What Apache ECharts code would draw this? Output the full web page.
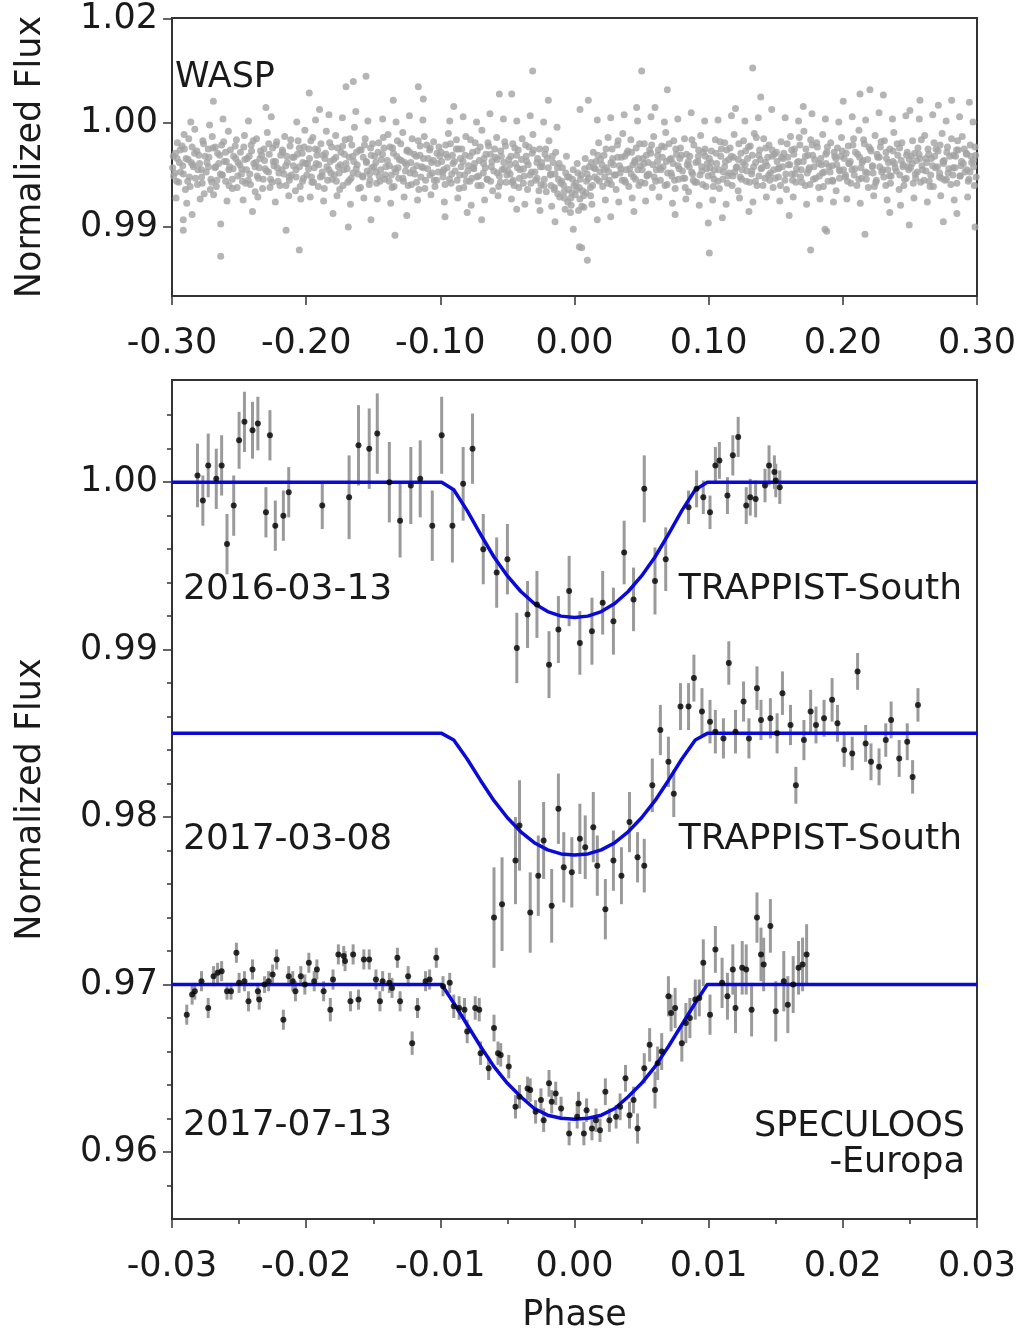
<!DOCTYPE html>
<html>
<head>
<meta charset="utf-8">
<script src="https://cdn.jsdelivr.net/npm/echarts@6/dist/echarts.min.js"></script>
<style>
html, body { margin: 0; padding: 0; background: #fff; }
#main { width: 1019px; height: 1329px; }
</style>
</head>
<body>
<div id="main"></div>
<script>
// WASP phase-folded photometry (phase, normalized flux)
var waspBand = [
[-.299,.9968],[-.298,.9952],[-.296,.9981],[-.295,.9943],[-.294,.9974],[-.292,.9959],[-.291,.9989],[-.290,.9936],[-.288,.9965],[-.287,.9948],[-.285,.9977],[-.284,.9958],[-.283,.9994],[-.281,.9941],[-.280,.9969],[-.278,.9955],[-.277,.9983],[-.276,.9932],[-.274,.9962],[-.273,.9975],[-.271,.9946],[-.270,.9987],[-.268,.9957],[-.267,.9939],[-.266,.9971],[-.264,.9951],[-.263,.9979],[-.261,.9963],[-.260,.9944],[-.258,.9992],[-.257,.9958],[-.255,.9937],[-.254,.9968],[-.252,.9984],[-.251,.9949],
[-.297,.9928],[-.289,.9923],[-.279,.9927],[-.269,.9931],[-.259,.9925],[-.286,1.0001],[-.272,.9998],[-.262,1.0004],
[-.249,.9972],[-.248,.9956],[-.246,.9988],[-.245,.9942],[-.244,.9966],[-.242,.9951],[-.241,.9979],[-.239,.9961],[-.238,.9934],[-.237,.9985],[-.235,.9957],[-.234,.9973],[-.232,.9946],[-.231,.9964],[-.229,.9991],[-.228,.9953],[-.227,.9938],[-.225,.9976],[-.224,.9959],[-.222,.9982],[-.221,.9944],[-.219,.9969],[-.218,.9955],[-.216,.9987],[-.215,.9940],[-.214,.9962],[-.212,.9978],[-.211,.9950],[-.209,.9967],[-.208,.9935],[-.206,.9983],[-.205,.9958],[-.203,.9971],[-.202,.9947],[-.201,.9993],
[-.247,.9926],[-.236,.9929],[-.223,.9924],[-.213,.9930],[-.204,.9927],[-.243,1.0002],[-.226,1.0006],[-.207,1.0001],
[-.199,.9961],[-.198,.9975],[-.196,.9948],[-.195,.9986],[-.194,.9957],[-.192,.9969],[-.191,.9939],[-.189,.9980],[-.188,.9953],[-.186,.9966],[-.185,.9992],[-.184,.9945],[-.182,.9963],[-.181,.9977],[-.179,.9950],[-.178,.9988],[-.176,.9958],[-.175,.9936],[-.174,.9972],[-.172,.9955],[-.171,.9984],[-.169,.9943],[-.168,.9967],[-.166,.9979],[-.165,.9952],[-.164,.9996],[-.162,.9960],[-.161,.9937],[-.159,.9974],[-.158,.9949],[-.156,.9985],[-.155,.9962],[-.153,.9941],[-.152,.9976],[-.151,.9957],
[-.197,.9929],[-.187,.9925],[-.177,.9930],[-.167,.9922],[-.157,.9928],[-.193,1.0003],[-.183,1.0008],[-.173,1.0005],[-.163,1.0011],[-.154,1.0002],
[-.149,.9968],[-.148,.9953],[-.146,.9981],[-.145,.9944],[-.144,.9965],[-.142,.9976],[-.141,.9950],[-.139,.9989],[-.138,.9959],[-.136,.9938],[-.135,.9971],[-.134,.9956],[-.132,.9983],[-.131,.9947],[-.129,.9964],[-.128,.9991],[-.126,.9954],[-.125,.9973],[-.124,.9940],[-.122,.9962],[-.121,.9985],[-.119,.9951],[-.118,.9968],[-.116,.9936],[-.115,.9978],[-.114,.9958],[-.112,.9987],[-.111,.9945],[-.109,.9966],[-.108,.9974],[-.106,.9952],[-.105,.9982],[-.104,.9939],[-.102,.9961],[-.101,.9977],
[-.147,.9927],[-.137,.9923],[-.127,.9929],[-.117,.9926],[-.107,.9931],[-.143,1.0004],[-.133,1.0001],[-.123,1.0007],[-.113,1.0003],
[-.099,.9963],[-.098,.9948],[-.096,.9979],[-.095,.9957],[-.094,.9990],[-.092,.9942],[-.091,.9969],[-.089,.9954],[-.088,.9984],[-.086,.9937],[-.085,.9966],[-.084,.9975],[-.082,.9950],[-.081,.9987],[-.079,.9959],[-.078,.9944],[-.076,.9972],[-.075,.9956],[-.074,.9981],[-.072,.9940],[-.071,.9964],[-.069,.9993],[-.068,.9952],[-.066,.9970],[-.065,.9946],[-.064,.9978],[-.062,.9958],[-.061,.9935],[-.059,.9967],[-.058,.9986],[-.056,.9949],[-.055,.9973],[-.054,.9955],[-.052,.9982],[-.051,.9943],
[-.097,.9924],[-.087,.9928],[-.077,.9921],[-.067,.9926],[-.057,.9930],[-.093,1.0002],[-.083,1.0006],[-.073,1.0001],[-.063,1.0009],[-.053,1.0004],
[-.049,.9965],[-.048,.9951],[-.046,.9980],[-.045,.9940],[-.044,.9961],[-.042,.9974],[-.041,.9947],[-.039,.9985],[-.038,.9956],[-.036,.9968],[-.035,.9936],[-.034,.9977],[-.032,.9953],[-.031,.9989],[-.029,.9945],[-.028,.9962],[-.026,.9975],[-.025,.9941],[-.024,.9958],[-.022,.9970],[-.021,.9934],[-.019,.9983],[-.018,.9950],[-.016,.9962],[-.015,.9938],[-.014,.9972],[-.012,.9946],[-.011,.9929],[-.009,.9957],[-.008,.9940],[-.006,.9968],[-.005,.9924],[-.004,.9948],[-.002,.9933],[-.001,.9955],
[-.047,.9927],[-.037,.9922],[-.027,.9925],[-.017,.9920],[-.007,.9917],[-.003,.9914],[-.043,1.0002],[-.033,1.0007],[-.023,1.0001],[-.013,.9996],
[.001,.9942],[.002,.9961],[.004,.9927],[.005,.9950],[.006,.9935],[.008,.9966],[.009,.9944],[.011,.9958],[.012,.9930],[.014,.9972],[.015,.9948],[.016,.9963],[.018,.9981],[.019,.9953],[.021,.9939],[.022,.9969],[.024,.9957],[.025,.9986],[.026,.9945],[.028,.9975],[.029,.9960],[.031,.9936],[.032,.9979],[.034,.9952],[.035,.9967],[.036,.9990],[.038,.9943],[.039,.9971],[.041,.9956],[.042,.9984],[.044,.9948],[.045,.9964],[.046,.9976],[.048,.9940],[.049,.9959],
[.003,.9916],[.007,.9919],[.013,.9922],[.023,.9926],[.033,.9924],[.043,.9928],[.017,1.0003],[.027,1.0005],[.037,1.0008],[.047,1.0002],
[.051,.9966],[.052,.9980],[.054,.9949],[.055,.9962],[.056,.9974],[.058,.9938],[.059,.9987],[.061,.9955],[.062,.9969],[.064,.9945],[.065,.9978],[.066,.9958],[.068,.9991],[.069,.9941],[.071,.9965],[.072,.9952],[.074,.9983],[.075,.9937],[.076,.9970],[.078,.9956],[.079,.9976],[.081,.9947],[.082,.9985],[.084,.9960],[.085,.9934],[.086,.9968],[.088,.9951],[.089,.9979],[.091,.9943],[.092,.9963],[.094,.9988],[.095,.9954],[.096,.9972],[.098,.9939],[.099,.9961],
[.053,.9925],[.063,.9929],[.073,.9923],[.083,.9927],[.093,.9921],[.057,1.0006],[.067,1.0001],[.077,1.0004],[.087,1.0010],[.097,1.0002],
[.101,.9957],[.102,.9973],[.104,.9946],[.105,.9984],[.106,.9961],[.108,.9937],[.109,.9968],[.111,.9953],[.112,.9981],[.114,.9942],[.115,.9965],[.116,.9976],[.118,.9949],[.119,.9989],[.121,.9958],[.122,.9935],[.124,.9971],[.125,.9955],[.126,.9983],[.128,.9944],[.129,.9966],[.131,.9978],[.132,.9951],[.134,.9990],[.135,.9962],[.136,.9940],[.138,.9974],[.139,.9956],[.141,.9985],[.142,.9947],[.144,.9967],[.145,.9979],[.146,.9952],[.148,.9938],[.149,.9970],
[.103,.9926],[.113,.9922],[.123,.9928],[.133,.9924],[.143,.9929],[.107,1.0003],[.117,1.0007],[.127,1.0002],[.137,1.0005],
[.151,.9963],[.152,.9948],[.154,.9982],[.155,.9958],[.156,.9971],[.158,.9936],[.159,.9967],[.161,.9987],[.162,.9951],[.164,.9975],[.165,.9943],[.166,.9962],[.168,.9979],[.169,.9955],[.171,.9992],[.172,.9940],[.174,.9969],[.175,.9957],[.176,.9984],[.178,.9946],[.179,.9965],[.181,.9977],[.182,.9938],[.184,.9960],[.185,.9989],[.186,.9953],[.188,.9972],[.189,.9944],[.191,.9981],[.192,.9959],[.194,.9968],[.195,.9935],[.196,.9976],[.198,.9954],[.199,.9986],
[.153,.9925],[.163,.9929],[.173,.9922],[.183,.9927],[.193,.9924],[.157,1.0005],[.167,1.0002],[.177,1.0009],[.187,1.0004],[.197,1.0001],
[.201,.9966],[.202,.9950],[.204,.9978],[.205,.9961],[.206,.9942],[.208,.9985],[.209,.9956],[.211,.9970],[.212,.9993],[.214,.9947],[.215,.9964],[.216,.9980],[.218,.9952],[.219,.9938],[.221,.9973],[.222,.9958],[.224,.9988],[.225,.9945],[.226,.9967],[.228,.9977],[.229,.9953],[.231,.9983],[.232,.9940],[.234,.9962],[.235,.9975],[.236,.9949],[.238,.9991],[.239,.9957],[.241,.9969],[.242,.9936],[.244,.9981],[.245,.9960],[.246,.9946],[.248,.9972],[.249,.9955],
[.203,.9927],[.213,.9923],[.223,.9930],[.233,.9926],[.243,.9921],[.207,1.0006],[.217,1.0003],[.227,1.0010],[.237,1.0004],[.247,1.0007],
[.251,.9968],[.252,.9983],[.254,.9951],[.255,.9964],[.256,.9976],[.258,.9943],[.259,.9959],[.261,.9988],[.262,.9954],[.264,.9970],[.265,.9939],[.266,.9966],[.268,.9981],[.269,.9957],[.271,.9973],[.272,.9948],[.274,.9990],[.275,.9961],[.276,.9945],[.278,.9977],[.279,.9956],[.281,.9985],[.282,.9950],[.284,.9968],[.285,.9942],[.286,.9974],[.288,.9959],[.289,.9987],[.291,.9953],[.292,.9971],[.294,.9946],[.295,.9979],[.296,.9962],[.298,.9940],[.299,.9969],
[.253,.9928],[.263,.9924],[.273,.9930],[.283,.9926],[.293,.9929],[.257,1.0004],[.267,1.0008],[.277,1.0002],[.287,1.0006],[.297,1.0001]
];
var waspCore = [
[-.2995,.9957],[-.2975,.9971],[-.2965,.9944],[-.2945,.9962],[-.2925,.9978],[-.2915,.9951],[-.2895,.9966],[-.2875,.9985],[-.2865,.9939],[-.2845,.9960],[-.2825,.9947],[-.2815,.9973],[-.2795,.9961],[-.2775,.9942],[-.2765,.9980],[-.2745,.9953],[-.2725,.9967],[-.2715,.9936],[-.2695,.9976],[-.2675,.9958],[-.2665,.9945],[-.2645,.9969],[-.2625,.9950],[-.2615,.9982],[-.2595,.9963],[-.2575,.9940],[-.2565,.9974],[-.2545,.9956],[-.2525,.9966],[-.2515,.9938],
[-.2495,.9960],[-.2475,.9944],[-.2465,.9977],[-.2445,.9955],[-.2425,.9968],[-.2415,.9941],[-.2395,.9983],[-.2375,.9962],[-.2365,.9949],[-.2345,.9966],[-.2325,.9937],[-.2315,.9975],[-.2295,.9954],[-.2275,.9970],[-.2265,.9946],[-.2245,.9963],[-.2225,.9979],[-.2215,.9957],[-.2195,.9940],[-.2175,.9972],[-.2165,.9951],[-.2145,.9968],[-.2125,.9945],[-.2115,.9984],[-.2095,.9959],[-.2075,.9948],[-.2065,.9970],[-.2045,.9939],[-.2025,.9962],[-.2015,.9977],
[-.1995,.9950],[-.1975,.9966],[-.1965,.9983],[-.1945,.9943],[-.1925,.9961],[-.1915,.9974],[-.1895,.9948],[-.1875,.9969],[-.1865,.9937],[-.1845,.9958],[-.1825,.9981],[-.1815,.9952],[-.1795,.9965],[-.1775,.9944],[-.1765,.9976],[-.1745,.9960],[-.1725,.9940],[-.1715,.9970],[-.1695,.9956],[-.1675,.9985],[-.1665,.9947],[-.1645,.9963],[-.1625,.9972],[-.1615,.9951],[-.1595,.9938],[-.1575,.9967],[-.1565,.9979],[-.1545,.9954],[-.1525,.9945],[-.1515,.9969],
[-.1495,.9958],[-.1475,.9942],[-.1465,.9972],[-.1445,.9955],[-.1425,.9986],[-.1415,.9946],[-.1395,.9964],[-.1375,.9977],[-.1365,.9950],[-.1345,.9939],[-.1325,.9968],[-.1315,.9957],[-.1295,.9980],[-.1275,.9944],[-.1265,.9962],[-.1245,.9974],[-.1225,.9952],[-.1215,.9941],[-.1195,.9970],[-.1175,.9959],[-.1165,.9983],[-.1145,.9948],[-.1125,.9966],[-.1115,.9937],[-.1095,.9956],[-.1075,.9976],[-.1065,.9962],[-.1045,.9945],[-.1025,.9971],[-.1015,.9953],
[-.0995,.9972],[-.0975,.9955],[-.0965,.9941],[-.0945,.9967],[-.0925,.9980],[-.0915,.9951],[-.0895,.9963],[-.0875,.9945],[-.0865,.9975],[-.0845,.9958],[-.0825,.9938],[-.0815,.9969],[-.0795,.9954],[-.0775,.9984],[-.0765,.9947],[-.0745,.9961],[-.0725,.9973],[-.0715,.9949],[-.0695,.9940],[-.0675,.9966],[-.0665,.9957],[-.0645,.9981],[-.0625,.9944],[-.0615,.9963],[-.0595,.9975],[-.0575,.9952],[-.0565,.9939],[-.0545,.9968],[-.0525,.9956],[-.0515,.9978],
[-.0495,.9954],[-.0475,.9968],[-.0465,.9943],[-.0445,.9976],[-.0425,.9957],[-.0415,.9938],[-.0395,.9965],[-.0375,.9949],[-.0365,.9979],[-.0345,.9960],[-.0325,.9942],[-.0315,.9971],[-.0295,.9953],[-.0275,.9966],[-.0265,.9935],[-.0245,.9962],[-.0225,.9946],[-.0215,.9975],[-.0195,.9957],[-.0175,.9940],[-.0165,.9968],[-.0145,.9951],[-.0125,.9932],[-.0115,.9961],[-.0095,.9944],[-.0075,.9928],[-.0065,.9952],[-.0045,.9936],[-.0025,.9921],[-.0015,.9946],
[.0005,.9931],[.0025,.9952],[.0035,.9938],[.0055,.9920],[.0075,.9956],[.0085,.9933],[.0105,.9947],[.0125,.9962],[.0135,.9940],[.0155,.9956],[.0175,.9969],[.0185,.9944],[.0205,.9960],[.0225,.9948],[.0235,.9975],[.0255,.9953],[.0275,.9941],[.0285,.9966],[.0305,.9950],[.0325,.9983],[.0335,.9959],[.0355,.9945],[.0375,.9968],[.0385,.9955],[.0405,.9939],[.0425,.9972],[.0435,.9960],[.0455,.9946],[.0475,.9966],[.0485,.9980],
[.0505,.9955],[.0525,.9942],[.0535,.9969],[.0555,.9951],[.0575,.9979],[.0585,.9960],[.0605,.9944],[.0625,.9974],[.0635,.9957],[.0655,.9967],[.0675,.9940],[.0685,.9963],[.0705,.9980],[.0725,.9949],[.0735,.9961],[.0755,.9975],[.0775,.9946],[.0785,.9966],[.0805,.9954],[.0825,.9938],[.0835,.9970],[.0855,.9958],[.0875,.9984],[.0885,.9945],[.0905,.9962],[.0925,.9974],[.0935,.9950],[.0955,.9941],[.0975,.9968],[.0985,.9956],
[.1005,.9966],[.1025,.9950],[.1035,.9939],[.1055,.9971],[.1075,.9955],[.1085,.9982],[.1105,.9946],[.1125,.9963],[.1135,.9974],[.1155,.9952],[.1175,.9940],[.1185,.9967],[.1205,.9957],[.1225,.9980],[.1235,.9948],[.1255,.9962],[.1275,.9973],[.1285,.9954],[.1305,.9943],[.1325,.9969],[.1335,.9958],[.1355,.9986],[.1375,.9949],[.1385,.9965],[.1405,.9940],[.1425,.9976],[.1435,.9959],[.1455,.9945],[.1475,.9968],[.1485,.9955],
[.1505,.9972],[.1525,.9957],[.1535,.9940],[.1555,.9966],[.1575,.9951],[.1585,.9980],[.1605,.9960],[.1625,.9945],[.1635,.9970],[.1655,.9956],[.1675,.9986],[.1685,.9948],[.1705,.9963],[.1725,.9975],[.1735,.9952],[.1755,.9941],[.1775,.9969],[.1785,.9958],[.1805,.9981],[.1825,.9949],[.1835,.9966],[.1855,.9939],[.1875,.9961],[.1885,.9977],[.1905,.9953],[.1925,.9944],[.1935,.9972],[.1955,.9960],[.1975,.9947],[.1985,.9968],
[.2005,.9955],[.2025,.9971],[.2035,.9944],[.2055,.9963],[.2075,.9979],[.2085,.9950],[.2105,.9940],[.2125,.9967],[.2135,.9957],[.2155,.9984],[.2175,.9946],[.2185,.9965],[.2205,.9975],[.2225,.9952],[.2235,.9939],[.2255,.9970],[.2275,.9958],[.2285,.9982],[.2305,.9948],[.2325,.9966],[.2335,.9955],[.2355,.9942],[.2375,.9973],[.2385,.9961],[.2405,.9980],[.2425,.9950],[.2435,.9964],[.2455,.9940],[.2475,.9969],[.2485,.9958],
[.2505,.9957],[.2525,.9942],[.2535,.9971],[.2555,.9953],[.2575,.9966],[.2585,.9984],[.2605,.9945],[.2625,.9962],[.2635,.9975],[.2655,.9950],[.2675,.9939],[.2685,.9968],[.2705,.9958],[.2725,.9979],[.2735,.9947],[.2755,.9964],[.2775,.9972],[.2785,.9952],[.2805,.9941],[.2825,.9969],[.2835,.9957],[.2855,.9983],[.2875,.9949],[.2885,.9963],[.2905,.9975],[.2925,.9955],[.2935,.9944],[.2955,.9968],[.2975,.9958],[.2985,.9977]
];
var waspInner = [
[-.2988,.9949],[-.2962,.9966],[-.2937,.9953],[-.2908,.9975],[-.2883,.9944],[-.2857,.9962],[-.2832,.9971],[-.2806,.9955],[-.2779,.9948],[-.2753,.9968],[-.2728,.9958],[-.2703,.9943],[-.2677,.9977],[-.2652,.9961],[-.2627,.9950],[-.2601,.9972],[-.2576,.9955],[-.2551,.9946],[-.2529,.9978],[-.2508,.9962],
[-.2483,.9951],[-.2457,.9965],[-.2432,.9945],[-.2407,.9973],[-.2381,.9958],[-.2356,.9947],[-.2331,.9969],[-.2306,.9956],[-.2279,.9980],[-.2254,.9943],[-.2228,.9963],[-.2203,.9952],[-.2178,.9974],[-.2152,.9959],[-.2127,.9948],[-.2101,.9967],[-.2076,.9955],[-.2051,.9976],[-.2027,.9944],[-.2006,.9961],
[-.1982,.9956],[-.1957,.9943],[-.1932,.9975],[-.1906,.9960],[-.1881,.9949],[-.1856,.9971],[-.1831,.9955],[-.1806,.9946],[-.1779,.9967],[-.1754,.9952],[-.1728,.9978],[-.1703,.9961],[-.1678,.9945],[-.1652,.9968],[-.1627,.9956],[-.1602,.9974],[-.1577,.9948],[-.1552,.9963],[-.1527,.9951],[-.1505,.9980],
[-.1481,.9962],[-.1456,.9949],[-.1431,.9970],[-.1406,.9958],[-.1381,.9944],[-.1356,.9976],[-.1331,.9953],[-.1306,.9965],[-.1279,.9947],[-.1254,.9960],[-.1228,.9972],[-.1203,.9955],[-.1178,.9943],[-.1152,.9969],[-.1127,.9957],[-.1102,.9979],[-.1077,.9950],[-.1052,.9964],[-.1027,.9945],[-.1004,.9968],
[-.0982,.9953],[-.0957,.9970],[-.0932,.9946],[-.0906,.9961],[-.0881,.9975],[-.0856,.9950],[-.0831,.9963],[-.0806,.9944],[-.0779,.9968],[-.0754,.9957],[-.0728,.9948],[-.0703,.9977],[-.0678,.9961],[-.0652,.9946],[-.0627,.9970],[-.0602,.9954],[-.0577,.9965],[-.0552,.9943],[-.0527,.9962],[-.0504,.9950],
[-.0482,.9960],[-.0457,.9945],[-.0432,.9969],[-.0406,.9955],[-.0381,.9942],[-.0356,.9963],[-.0331,.9950],[-.0306,.9974],[-.0279,.9947],[-.0254,.9958],[-.0228,.9940],[-.0203,.9966],[-.0178,.9951],[-.0152,.9936],[-.0127,.9957],[-.0102,.9942],[-.0077,.9934],[-.0052,.9948],[-.0027,.9928],[-.0004,.9940],
[.0018,.9936],[.0043,.9946],[.0068,.9930],[.0094,.9951],[.0119,.9938],[.0144,.9957],[.0169,.9946],[.0194,.9965],[.0221,.9955],[.0246,.9942],[.0272,.9962],[.0297,.9950],[.0322,.9967],[.0348,.9956],[.0373,.9945],[.0398,.9973],[.0423,.9951],[.0448,.9962],[.0473,.9955],[.0496,.9943],
[.0518,.9961],[.0543,.9950],[.0568,.9971],[.0594,.9948],[.0619,.9963],[.0644,.9955],[.0669,.9977],[.0694,.9952],[.0721,.9966],[.0746,.9945],[.0772,.9959],[.0797,.9969],[.0822,.9947],[.0848,.9963],[.0873,.9953],[.0898,.9943],[.0923,.9968],[.0948,.9958],[.0973,.9975],[.0996,.9949],
[.1018,.9962],[.1043,.9955],[.1068,.9944],[.1094,.9975],[.1119,.9958],[.1144,.9949],[.1169,.9968],[.1194,.9953],[.1221,.9965],[.1246,.9946],[.1272,.9960],[.1297,.9977],[.1322,.9954],[.1348,.9944],[.1373,.9969],[.1398,.9957],[.1423,.9962],[.1448,.9950],[.1473,.9974],[.1496,.9947],
[.1518,.9956],[.1543,.9967],[.1568,.9945],[.1594,.9960],[.1619,.9974],[.1644,.9951],[.1669,.9963],[.1694,.9943],[.1721,.9968],[.1746,.9955],[.1772,.9979],[.1797,.9947],[.1822,.9961],[.1848,.9952],[.1873,.9970],[.1898,.9958],[.1923,.9945],[.1948,.9966],[.1973,.9955],[.1996,.9973],
[.2018,.9948],[.2043,.9961],[.2068,.9955],[.2094,.9972],[.2119,.9946],[.2144,.9962],[.2169,.9953],[.2194,.9977],[.2221,.9959],[.2246,.9943],[.2272,.9967],[.2297,.9955],[.2322,.9972],[.2348,.9949],[.2373,.9963],[.2398,.9954],[.2423,.9976],[.2448,.9958],[.2473,.9947],[.2496,.9965],
[.2518,.9961],[.2543,.9947],[.2568,.9970],[.2594,.9955],[.2619,.9966],[.2644,.9944],[.2669,.9959],[.2694,.9975],[.2721,.9952],[.2746,.9963],[.2772,.9946],[.2797,.9968],[.2822,.9957],[.2848,.9974],[.2873,.9949],[.2898,.9961],[.2923,.9970],[.2948,.9953],[.2973,.9964],[.2994,.9948]
];
var waspOutliers = [
[-.2692,1.0021],[-.2637,.9872],[-.2916,.9897],[-.2916,.9907],[-.2637,.9903],[-.2051,.9878],[-.215,.9897],[-.1977,1.0029],[-.1703,1.0035],[-.1649,1.0040],
[-.1554,1.0045],[-.1686,.9900],[-.1351,1.0022],[-.1164,1.0035],[-.1127,1.0023],[-.1338,.9892],[-.1517,.9907],[-.0312,1.0050],[-.056,1.0028],[-.0468,1.0028],
[-.0195,1.0022],[-.0145,.9905],[-.0009,.9898],[.0036,.9881],[-.0692,.9907],[-.0431,.9917],[-.0965,.9910],[-.0257,.9916],[.0501,1.0050],[.1328,1.0053],
[.0692,1.0032],[.1388,1.0025],[.0054,.9880],[.0096,.9868],[.1005,.9875],[.176,.9878],[.017,.9907],[.027,.9910],[.0443,.9915],[.0997,.9904],
[.1102,.9909],[.188,.9896],[.2165,.9893],[.2495,.9902],[.2749,.9905],[.2985,.9900],[.2202,1.0032],[.2302,1.0027],[.2575,1.0022],[.2811,1.0022],
[.2943,1.0020],[.2712,1.0017],[.2128,1.0028],[.2003,1.0021],[.0463,1.0015],[.06,1.0015],[.1705,1.0016],[.0041,1.0013],[.0103,1.0022],[.1867,.9898],
[.147,1.0013],[-.285,.9912],[-.24,.9915],[-.18,.9913],[-.125,.9911],[-.08,.9914],[.075,.9912],[.13,.9915],[.16,.9911],[.235,.9914],
[.285,.9913],[-.23,1.0015],[-.19,1.0013],[-.09,1.0016],[.12,1.0014],[.25,1.0012]
];

// ground-based light curves: [phase, flux, error]
var trapMar16 = [
[-0.0281,1.0004,0.0019],[-0.0277,0.9989,0.0015],[-0.0273,1.0010,0.0019],[-0.0267,1.0002,0.0018],[-0.0263,1.0010,0.0018],
[-0.0259,0.9963,0.0018],[-0.0254,0.9986,0.0018],[-0.0250,1.0025,0.0017],[-0.0246,1.0036,0.0018],[-0.0240,1.0031,0.0017],
[-0.0236,1.0035,0.0016],[-0.0230,0.9982,0.0015],[-0.0227,1.0028,0.0015],[-0.0223,0.9974,0.0015],[-0.0217,0.9980,0.0015],
[-0.0213,0.9994,0.0015],[-0.0188,0.9986,0.0014],[-0.0168,0.9991,0.0025],[-0.0161,1.0022,0.0024],[-0.0153,1.0020,0.0024],
[-0.0147,1.0029,0.0024],[-0.0138,1.0000,0.0024],[-0.0130,0.9977,0.0022],[-0.0122,0.9998,0.0023],[-0.0115,1.0002,0.0023],
[-0.0106,0.9974,0.0021],[-0.0099,1.0028,0.0023],[-0.0091,0.9974,0.0022],[-0.0083,0.9999,0.0022],[-0.0076,1.0020,0.0021],
[-0.0068,0.9960,0.0021],[-0.0058,0.9946,0.0021],[-0.0050,0.9954,0.0021],[-0.0043,0.9901,0.0021],[-0.0035,0.9921,0.0020],
[-0.0028,0.9927,0.0020],[-0.0019,0.9891,0.0020],[-0.0012,0.9912,0.0020],[-0.0004,0.9935,0.0021],[0.0004,0.9904,0.0019],
[0.0013,0.9911,0.0020],[0.0021,0.9928,0.0019],[0.0029,0.9917,0.0020],[0.0037,0.9958,0.0019],[0.0044,0.9930,0.0019],
[0.0052,0.9996,0.0020],[0.0060,0.9941,0.0020],[0.0068,0.9954,0.0019],[0.0085,0.9985,0.0010],[0.0091,0.9996,0.0011],
[0.0096,0.9991,0.0010],[0.0101,0.9982,0.0010],[0.0105,1.0010,0.0011],[0.0108,1.0013,0.0011],[0.0114,0.9992,0.0011],
[0.0118,1.0016,0.0012],[0.0122,1.0027,0.0012],[0.0128,0.9986,0.0011],[0.0131,0.9991,0.0011],[0.0135,0.9990,0.0011],
[0.0142,0.9998,0.0010],[0.0145,1.0010,0.0012],[0.0149,1.0006,0.0010],[0.0150,1.0001,0.0010],[0.0153,0.9997,0.0010]
];
var trapMar17 = [
[-0.0060,0.9740,0.0030],[-0.0054,0.9748,0.0028],[-0.0044,0.9774,0.0026],[-0.0041,0.9795,0.0027],[-0.0033,0.9743,0.0024],
[-0.0027,0.9765,0.0024],[-0.0023,0.9786,0.0023],[-0.0017,0.9747,0.0022],[-0.0012,0.9805,0.0021],[-0.0008,0.9770,0.0021],
[-0.0002,0.9767,0.0021],[0.0004,0.9787,0.0021],[0.0008,0.9782,0.0019],[0.0014,0.9794,0.0021],[0.0017,0.9771,0.0018],
[0.0023,0.9745,0.0018],[0.0029,0.9774,0.0018],[0.0035,0.9765,0.0017],[0.0041,0.9797,0.0018],[0.0047,0.9776,0.0015],
[0.0052,0.9771,0.0016],[0.0058,0.9819,0.0016],[0.0064,0.9852,0.0015],[0.0070,0.9833,0.0015],[0.0074,0.9814,0.0014],
[0.0079,0.9866,0.0014],[0.0085,0.9866,0.0014],[0.0089,0.9883,0.0014],[0.0095,0.9863,0.0014],[0.0101,0.9857,0.0013],
[0.0105,0.9851,0.0013],[0.0111,0.9847,0.0012],[0.0115,0.9892,0.0013],[0.0120,0.9851,0.0013],[0.0126,0.9869,0.0012],
[0.0130,0.9847,0.0012],[0.0136,0.9877,0.0013],[0.0139,0.9858,0.0012],[0.0146,0.9859,0.0012],[0.0151,0.9850,0.0012],
[0.0155,0.9874,0.0013],[0.0161,0.9855,0.0012],[0.0165,0.9819,0.0011],[0.0171,0.9846,0.0012],[0.0176,0.9863,0.0013],
[0.0180,0.9855,0.0011],[0.0186,0.9859,0.0011],[0.0192,0.9870,0.0013],[0.0196,0.9856,0.0011],[0.0201,0.9840,0.0010],
[0.0207,0.9838,0.0010],[0.0211,0.9887,0.0011],[0.0217,0.9844,0.0011],[0.0221,0.9833,0.0011],[0.0227,0.9830,0.0011],
[0.0232,0.9846,0.0010],[0.0236,0.9858,0.0011],[0.0242,0.9835,0.0011],[0.0248,0.9845,0.0011],[0.0252,0.9824,0.0010],
[0.0256,0.9867,0.0010]
];
var specJul17 = [
[-0.0289,0.9682,0.0006],[-0.0285,0.9694,0.0006],[-0.0283,0.9696,0.0005],[-0.0278,0.9702,0.0006],[-0.0273,0.9686,0.0006],
[-0.0269,0.9705,0.0006],[-0.0266,0.9707,0.0006],[-0.0263,0.9708,0.0006],[-0.0259,0.9696,0.0005],[-0.0256,0.9696,0.0005],
[-0.0252,0.9719,0.0006],[-0.0250,0.9701,0.0006],[-0.0246,0.9702,0.0006],[-0.0243,0.9690,0.0006],[-0.0240,0.9709,0.0006],
[-0.0236,0.9696,0.0005],[-0.0235,0.9691,0.0006],[-0.0231,0.9700,0.0005],[-0.0228,0.9702,0.0006],[-0.0225,0.9706,0.0006],
[-0.0222,0.9715,0.0006],[-0.0217,0.9679,0.0006],[-0.0213,0.9705,0.0006],[-0.0210,0.9702,0.0006],[-0.0208,0.9696,0.0006],
[-0.0204,0.9705,0.0006],[-0.0201,0.9700,0.0006],[-0.0198,0.9713,0.0006],[-0.0194,0.9702,0.0006],[-0.0192,0.9709,0.0006],
[-0.0187,0.9696,0.0006],[-0.0182,0.9685,0.0007],[-0.0180,0.9703,0.0006],[-0.0176,0.9718,0.0006],[-0.0172,0.9717,0.0006],
[-0.0171,0.9714,0.0006],[-0.0167,0.9690,0.0006],[-0.0165,0.9718,0.0006],[-0.0161,0.9691,0.0006],[-0.0157,0.9715,0.0006],
[-0.0153,0.9715,0.0006],[-0.0148,0.9703,0.0006],[-0.0145,0.9690,0.0006],[-0.0143,0.9702,0.0006],[-0.0138,0.9701,0.0006],
[-0.0136,0.9698,0.0006],[-0.0132,0.9716,0.0006],[-0.0130,0.9690,0.0006],[-0.0124,0.9705,0.0006],[-0.0121,0.9665,0.0007],
[-0.0117,0.9686,0.0006],[-0.0111,0.9702,0.0006],[-0.0108,0.9703,0.0006],[-0.0103,0.9716,0.0006],[-0.0098,0.9699,0.0006],
[-0.0093,0.9701,0.0006],[-0.0090,0.9687,0.0007],[-0.0086,0.9686,0.0007],[-0.0082,0.9685,0.0007],[-0.0080,0.9672,0.0007],
[-0.0074,0.9686,0.0007],[-0.0071,0.9685,0.0007],[-0.0070,0.9659,0.0007],[-0.0064,0.9650,0.0007],[-0.0060,0.9674,0.0008],
[-0.0057,0.9659,0.0007],[-0.0055,0.9658,0.0007],[-0.0049,0.9651,0.0007],[-0.0044,0.9627,0.0007],[-0.0041,0.9633,0.0007],
[-0.0035,0.9638,0.0007],[-0.0033,0.9637,0.0007],[-0.0029,0.9624,0.0007],[-0.0025,0.9631,0.0007],[-0.0023,0.9619,0.0007],
[-0.0019,0.9641,0.0008],[-0.0017,0.9630,0.0007],[-0.0014,0.9635,0.0007],[-0.0010,0.9626,0.0007],[-0.0004,0.9611,0.0007],
[0.0002,0.9621,0.0007],[0.0003,0.9629,0.0007],[0.0007,0.9611,0.0007],[0.0009,0.9625,0.0007],[0.0013,0.9614,0.0007],
[0.0016,0.9619,0.0007],[0.0019,0.9613,0.0007],[0.0023,0.9636,0.0008],[0.0026,0.9619,0.0007],[0.0031,0.9621,0.0007],
[0.0034,0.9627,0.0008],[0.0038,0.9644,0.0008],[0.0041,0.9622,0.0008],[0.0044,0.9631,0.0008],[0.0047,0.9614,0.0009],
[0.0052,0.9650,0.0009],[0.0056,0.9664,0.0010],[0.0060,0.9637,0.0011],[0.0062,0.9653,0.0010],[0.0065,0.9660,0.0011],
[0.0070,0.9693,0.0012],[0.0072,0.9683,0.0011],[0.0075,0.9686,0.0012],[0.0080,0.9665,0.0011],[0.0083,0.9677,0.0012],
[0.0086,0.9680,0.0012],[0.0090,0.9691,0.0012],[0.0093,0.9692,0.0011],[0.0096,0.9713,0.0014],[0.0101,0.9682,0.0012],
[0.0105,0.9721,0.0014],[0.0110,0.9701,0.0015],[0.0114,0.9693,0.0014],[0.0118,0.9709,0.0015],[0.0120,0.9686,0.0015],
[0.0125,0.9710,0.0016],[0.0128,0.9709,0.0015],[0.0132,0.9685,0.0016],[0.0136,0.9740,0.0015],[0.0139,0.9718,0.0016],
[0.0141,0.9712,0.0016],[0.0146,0.9735,0.0016],[0.0150,0.9684,0.0018],[0.0156,0.9702,0.0018],[0.0159,0.9688,0.0017],
[0.0163,0.9700,0.0017],[0.0167,0.9710,0.0016],[0.0170,0.9712,0.0016],[0.0173,0.9718,0.0018]
];

// transit model curves, read at these phases
var modelPhase = [-0.03, -0.0099, -0.009, -0.008, -0.007, -0.006, -0.005, -0.004, -0.003, -0.002, -0.001, 0,
                  0.001, 0.002, 0.003, 0.004, 0.005, 0.006, 0.007, 0.008, 0.009, 0.0099, 0.03];
var modelMar16 = [1.0, 1.0, 0.99955, 0.9983, 0.99688, 0.99553, 0.9944, 0.99347, 0.99275, 0.99227, 0.992, 0.99192,
                  0.992, 0.99227, 0.99275, 0.99347, 0.9944, 0.99553, 0.99688, 0.9983, 0.99955, 1.0, 1.0];
var modelMar17 = [0.985, 0.985, 0.9846, 0.98347, 0.98219, 0.98098, 0.97996, 0.97912, 0.97847, 0.97804, 0.9778, 0.97773,
                  0.9778, 0.97804, 0.97847, 0.97912, 0.97996, 0.98098, 0.98219, 0.98347, 0.9846, 0.985, 0.985];
var modelJul17 = [0.97, 0.97, 0.9689, 0.9676, 0.9663, 0.9651, 0.9641, 0.9633, 0.9626, 0.9622, 0.96202, 0.96195,
                  0.96202, 0.9622, 0.9626, 0.9633, 0.9641, 0.9651, 0.9663, 0.9676, 0.9689, 0.97, 0.97];

// tick positions and labels
var topXTicks = [-0.3, -0.2, -0.1, 0, 0.1, 0.2, 0.3];
var topYTicks = [0.99, 1.00, 1.01];
var topYLabels = ['0.99', '1.00', '1.02'];
var botXTicks = [-0.03, -0.02, -0.01, 0, 0.01, 0.02, 0.03];
var botXMinor = [-0.025, -0.015, -0.005, 0.005, 0.015, 0.025];
var botYTicks = [0.96, 0.97, 0.98, 0.99, 1.00];
var botYMinor = [0.958, 0.962, 0.964, 0.966, 0.968, 0.972, 0.974, 0.976, 0.978, 0.982, 0.984, 0.986, 0.988,
                 0.992, 0.994, 0.996, 0.998, 1.002, 1.004];

var FONT = 'DejaVu Sans';
var INK = '#1a1a1a';

function zip(xs, ys) {
  return xs.map(function (x, i) { return [x, ys[i]]; });
}
function fmt2(v) {
  if (Math.abs(v) < 1e-9) v = 0;
  return v.toFixed(2);
}
function errRender(params, api) {
  var x = api.value(0), y = api.value(1), e = api.value(2);
  var p1 = api.coord([x, y - e]);
  var p2 = api.coord([x, y + e]);
  return {
    type: 'line',
    shape: { x1: p1[0], y1: p1[1], x2: p2[0], y2: p2[1] },
    style: { stroke: '#9a9a9a', lineWidth: 3 }
  };
}

var tickStyle = { color: '#333', width: 1.5 };
var labelStyle = { fontSize: 35, color: INK, fontFamily: FONT };
var noLine = { show: false, onZero: false };

var series = [{
  type: 'scatter', xAxisIndex: 0, yAxisIndex: 0,
  data: waspBand.concat(waspCore, waspInner, waspOutliers),
  symbolSize: 7, itemStyle: { color: '#a2a2a2' }, silent: true
}];

[[trapMar16, modelMar16], [trapMar17, modelMar17], [specJul17, modelJul17]].forEach(function (d) {
  series.push({
    type: 'custom', xAxisIndex: 1, yAxisIndex: 1, z: 2,
    renderItem: errRender, encode: { x: 0, y: 1 }, data: d[0], silent: true
  });
  series.push({
    type: 'line', xAxisIndex: 1, yAxisIndex: 1, z: 3,
    data: zip(modelPhase, d[1]), showSymbol: false, smooth: false,
    lineStyle: { color: '#0a0ad8', width: 3.5, join: 'round' }, silent: true
  });
  series.push({
    type: 'scatter', xAxisIndex: 1, yAxisIndex: 1, z: 4,
    data: d[0].map(function (p) { return [p[0], p[1]]; }),
    symbolSize: 6, itemStyle: { color: '#000' }, silent: true
  });
});

var myChart = echarts.init(document.querySelector('#main'));
var option = {
  animation: false,
  backgroundColor: '#fff',
  grid: [
    { left: 172, top: 18, width: 805, height: 278, show: true, borderColor: '#333', borderWidth: 2,
      containLabel: false, outerBoundsMode: 'none' },
    { left: 172, top: 380, width: 805, height: 839, show: true, borderColor: '#333', borderWidth: 2,
      containLabel: false, outerBoundsMode: 'none' }
  ],
  xAxis: [
    {
      gridIndex: 0, type: 'value', min: -0.3, max: 0.3, position: 'bottom',
      axisLine: noLine, splitLine: { show: false },
      axisTick: { customValues: topXTicks, length: 9, lineStyle: tickStyle },
      axisLabel: Object.assign({ customValues: topXTicks, formatter: fmt2, margin: 30 }, labelStyle)
    },
    {
      gridIndex: 1, type: 'value', min: -0.03, max: 0.03, position: 'bottom',
      axisLine: noLine, splitLine: { show: false },
      axisTick: { customValues: botXTicks, length: 9, lineStyle: tickStyle },
      axisLabel: Object.assign({ customValues: botXTicks, formatter: fmt2, margin: 30 }, labelStyle),
      name: 'Phase', nameLocation: 'middle', nameGap: 79,
      nameTextStyle: { fontSize: 35, color: INK, fontFamily: FONT }
    },
    {
      gridIndex: 1, type: 'value', min: -0.03, max: 0.03, position: 'bottom',
      axisLine: noLine, splitLine: { show: false },
      axisTick: { customValues: botXMinor, length: 5, lineStyle: tickStyle },
      axisLabel: { show: false }
    }
  ],
  yAxis: [
    {
      gridIndex: 0, type: 'value', min: 0.98337, max: 1.0101, position: 'left',
      axisLine: noLine, splitLine: { show: false },
      axisTick: { customValues: topYTicks, length: 9, lineStyle: tickStyle },
      axisLabel: Object.assign({
        customValues: topYTicks, margin: 14,
        formatter: function (v) {
          for (var i = 0; i < topYTicks.length; i++) {
            if (Math.abs(topYTicks[i] - v) < 1e-6) return topYLabels[i];
          }
          return '';
        }
      }, labelStyle),
      name: 'Normalized Flux', nameLocation: 'middle', nameGap: 124,
      nameTextStyle: { fontSize: 35, color: INK, fontFamily: FONT }
    },
    {
      gridIndex: 1, type: 'value', min: 0.956, max: 1.0061, position: 'left',
      axisLine: noLine, splitLine: { show: false },
      axisTick: { customValues: botYTicks, length: 9, lineStyle: tickStyle },
      axisLabel: Object.assign({ customValues: botYTicks, formatter: fmt2, margin: 14 }, labelStyle),
      name: 'Normalized Flux', nameLocation: 'middle', nameGap: 124,
      nameTextStyle: { fontSize: 35, color: INK, fontFamily: FONT }
    },
    {
      gridIndex: 1, type: 'value', min: 0.956, max: 1.0061, position: 'left',
      axisLine: noLine, splitLine: { show: false },
      axisTick: { customValues: botYMinor, length: 5, lineStyle: tickStyle },
      axisLabel: { show: false }
    }
  ],
  graphic: [
    { type: 'text', left: 175, top: 60, z: 10, style: { text: 'WASP', font: '35px "DejaVu Sans"', fill: INK } },
    { type: 'text', x: 183, y: 590, z: 10, style: { text: '2016-03-13', font: '36px "DejaVu Sans"', fill: INK, align: 'left', verticalAlign: 'middle' } },
    { type: 'text', x: 962, y: 590, z: 10, style: { text: 'TRAPPIST-South', font: '36px "DejaVu Sans"', fill: INK, align: 'right', verticalAlign: 'middle' } },
    { type: 'text', x: 183, y: 840, z: 10, style: { text: '2017-03-08', font: '36px "DejaVu Sans"', fill: INK, align: 'left', verticalAlign: 'middle' } },
    { type: 'text', x: 962, y: 840, z: 10, style: { text: 'TRAPPIST-South', font: '36px "DejaVu Sans"', fill: INK, align: 'right', verticalAlign: 'middle' } },
    { type: 'text', x: 183, y: 1126, z: 10, style: { text: '2017-07-13', font: '36px "DejaVu Sans"', fill: INK, align: 'left', verticalAlign: 'middle' } },
    { type: 'text', x: 965, y: 1145, z: 10, style: { text: 'SPECULOOS\n-Europa', font: '35px "DejaVu Sans"', lineHeight: 36, fill: INK, align: 'right', verticalAlign: 'middle' } }
  ],
  series: series
};
myChart.setOption(option);
window.addEventListener('resize', function () {
  myChart.resize();
});
</script>
</body>
</html>
